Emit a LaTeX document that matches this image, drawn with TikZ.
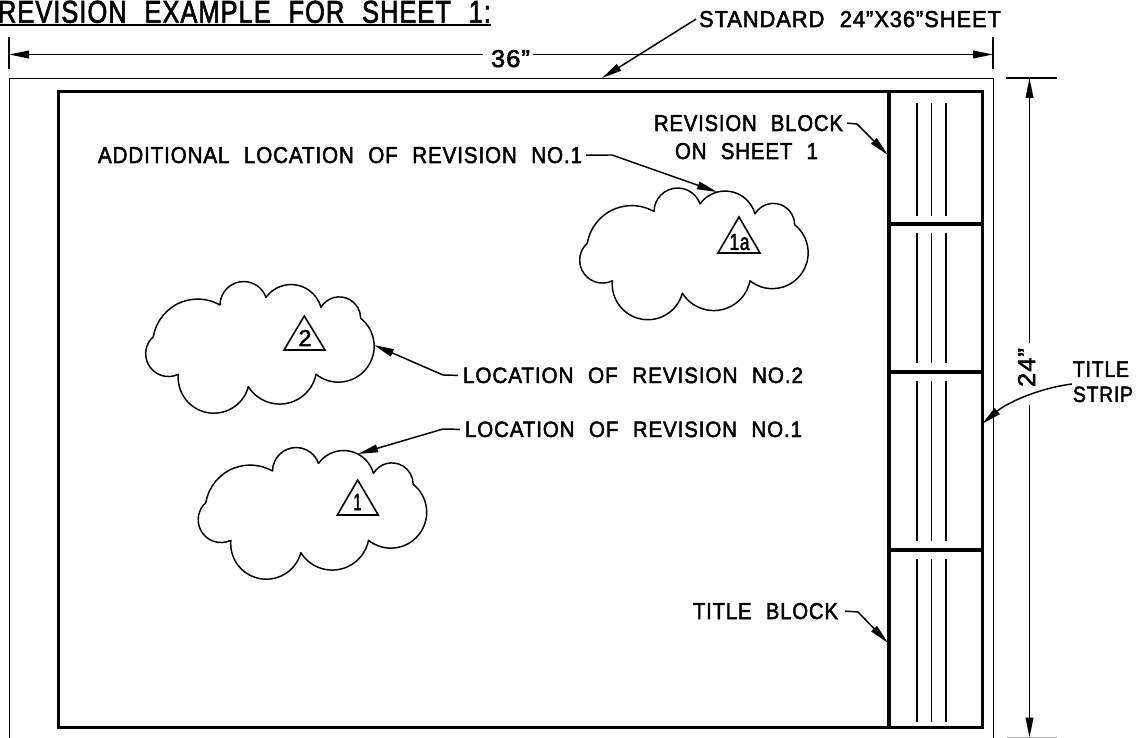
\documentclass[tikz,border=0pt]{standalone}
\usepackage{graphicx}
\usepackage{fontspec}
\usetikzlibrary{arrows.meta,svg.path}
\newfontfamily\cadf[WordSpace=2.2,LetterSpace=4,FakeBold=2.2]{Liberation Sans}
\newcommand{\cadtext}[3]{\resizebox{#1\dimexpr0.75pt\relax}{#2\dimexpr0.75pt\relax}{\cadf #3}}
\newcommand{\cloudshape}{%
  \draw[cloudline] svg {M 270 105 A 71 71 0 0 1 408 83 A 93 93 0 0 1 573 112 A 64 64 0 0 1 692 145 A 104 104 0 0 1 558 313 A 111 111 0 0 1 355 350 A 107 107 0 0 1 145 313 A 68.5 68.5 0 0 1 70 200 A 135 135 0 0 1 270 105};
}
\tikzset{
  thinline/.style={line width=1.1pt,line cap=butt},
  heavyline/.style={line width=2.4pt,line join=miter},
  cloudline/.style={line width=1.1pt,line join=round,line cap=round},
  leader/.style={line width=1.1pt,-{Triangle[length=15pt,width=5.8pt]}},
  dimline/.style={line width=1.1pt,-{Triangle[length=15pt,width=5.8pt]}},
  label/.style={inner sep=0pt,outer sep=0pt,anchor=base west},
  trimark/.style={line width=1.2pt,line join=miter}
}
\begin{document}
\begin{tikzpicture}[x=0.75pt,y=-0.75pt]
\useasboundingbox (0,0) rectangle (1140,738);
\fill[white] (0,0) rectangle (1140,738);
% title
\node[label] (title) at (-2,22.7) {\cadtext{493}{22}{REVISION EXAMPLE FOR SHEET 1:}};
\draw[line width=1.4pt] (-2,25.2) -- (491,25.2);
% sheet
\node[draw,line width=1pt,minimum width=984*0.75pt,minimum height=660*0.75pt,inner sep=0pt,anchor=north west] (sheet) at (9,78) {};
\node[draw,line width=2.4pt,minimum width=924*0.75pt,minimum height=636*0.75pt,inner sep=0pt,anchor=north west] (border) at (57,90) {};
\draw[heavyline] (889,90) -- (889,726);
\draw[line width=2.3pt] (889,224) -- (981,224);
\draw[line width=2.3pt] (889,372) -- (981,372);
\draw[line width=2.3pt] (889,550) -- (981,550);
\foreach \xx in {917,931.7,946}{
  \draw[thinline] (\xx,103) -- (\xx,216);
  \draw[thinline] (\xx,233) -- (\xx,363);
  \draw[thinline] (\xx,381) -- (\xx,541);
  \draw[thinline] (\xx,559) -- (\xx,722);
}
% 36 dimension
\node[label] (dimw) at (491,67) {\cadtext{39}{17}{36”}};
\coordinate (tl) at (9,54.5);
\coordinate (tr) at (993,54.5);
\draw[thinline] (9,37) -- (9,69);
\draw[thinline] (993,37) -- (993,69);
\draw[dimline] ([xshift=-8*0.75pt]dimw.west|-tl) -- (tl);
\draw[dimline] ([xshift=3*0.75pt]dimw.east|-tr) -- (tr);
% 24 dimension
\node[label,rotate=90] (dimh) at (1035,387) {\cadtext{39}{17}{24”}};
\coordinate (vt) at (1029.5,78);
\coordinate (vb) at (1029.5,737.5);
\coordinate (vs) at (1029.5,343);
\coordinate (ve) at (1029.5,405);
\draw[thinline] (1006,78) -- (1057,78);
\draw[thinline,black!35] (1007,737.5) -- (1057,737.5);
\draw[dimline] (vs) -- (vt);
\draw[dimline] (ve) -- (vb);
% labels and leaders
\node[label] (std) at (699,27) {\cadtext{302}{16}{STANDARD 24”X36”SHEET}};
\coordinate (stdtip) at (602,78);
\draw[leader] ([xshift=-3*0.75pt]std.west) -- (stdtip);

\node[label] (revblock) at (654,131) {\cadtext{189}{16}{REVISION BLOCK}};
\node[label] (onsheet) at (675,159) {\cadtext{143}{16}{ON SHEET 1}};
\coordinate (revbend) at (857,124);
\coordinate (revtip) at (888,155);
\draw[leader] ([xshift=4*0.75pt]revblock.east) -- (revbend) -- (revtip);

\node[label] (addl) at (98,163) {\cadtext{484}{16}{ADDITIONAL LOCATION OF REVISION NO.1}};
\coordinate (addlbend) at (612,155);
\coordinate (addltip) at (717,192);
\draw[leader] ([xshift=4*0.75pt]addl.east) -- (addlbend) -- (addltip);

\node[label] (loctwo) at (463,383) {\cadtext{340}{15.5}{LOCATION OF REVISION NO.2}};
\coordinate (twobend) at (443,375);
\coordinate (twotip) at (374,345);
\draw[leader] ([xshift=-5*0.75pt]loctwo.west) -- (twobend) -- (twotip);

\node[label] (locone) at (465,437) {\cadtext{337}{15.5}{LOCATION OF REVISION NO.1}};
\coordinate (onebend) at (443,429);
\coordinate (onetip) at (358,454);
\draw[leader] ([xshift=-5*0.75pt]locone.west) -- (onebend) -- (onetip);

\node[label] (titleblock) at (693,619) {\cadtext{145}{16}{TITLE BLOCK}};
\coordinate (tbbend) at (858,612);
\coordinate (tbtip) at (888,643);
\draw[leader] ([xshift=7*0.75pt]titleblock.east) -- (tbbend) -- (tbtip);

\node[label] (tt) at (1073,377) {\cadtext{56}{15.5}{TITLE}};
\node[label] (ts) at (1073,402) {\cadtext{60}{15.5}{STRIP}};
\coordinate (tsstart) at (1072,384);
\coordinate (tstip) at (982,424);
\draw[leader] (tsstart) .. controls (1040,388) and (1008,402) .. (tstip);
% clouds
\begin{scope}[shift={(130,270)},scale=0.25,yscale=-1]\cloudshape\end{scope}
\begin{scope}[shift={(182.5,436)},scale=0.25,yscale=-1]\cloudshape\end{scope}
\begin{scope}[shift={(564,176.5)},scale=0.25,yscale=-1]\cloudshape\end{scope}
% triangles
\node[draw=none,inner sep=0pt] (ntwo) at (305,338) {\cadtext{13}{16}{2}};
\draw[trimark] (304.3,316) -- (284,350) -- (325,350) -- cycle;
\node[draw=none,inner sep=0pt] (none) at (357.5,502) {\cadtext{8}{16}{1}};
\draw[trimark] (357.7,480) -- (337.3,515) -- (378.3,515) -- cycle;
\node[draw=none,inner sep=0pt] (nonea) at (739.5,242) {\cadtext{20}{16}{1a}};
\draw[trimark] (739,217) -- (718,253) -- (760,253) -- cycle;
\end{tikzpicture}
\end{document}
